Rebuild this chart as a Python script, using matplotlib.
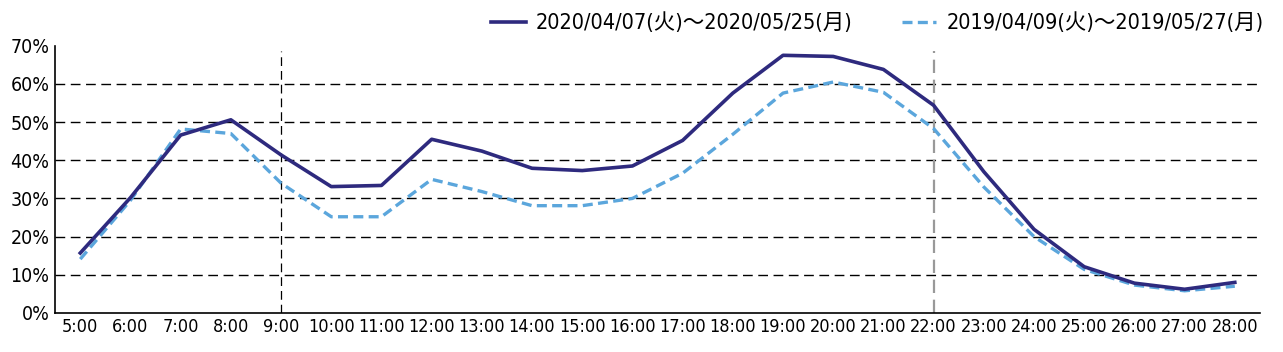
import matplotlib.pyplot as plt
from matplotlib.ticker import PercentFormatter

plt.rcParams['font.family'] = ['DejaVu Sans', 'Noto Sans CJK JP']
plt.rcParams['font.stretch'] = 'condensed'

hours = ['5:00', '6:00', '7:00', '8:00', '9:00', '10:00', '11:00', '12:00',
         '13:00', '14:00', '15:00', '16:00', '17:00', '18:00', '19:00', '20:00',
         '21:00', '22:00', '23:00', '24:00', '25:00', '26:00', '27:00', '28:00']

rate_2020 = [15.7, 30.2, 46.6, 50.6, 41.4, 33.1, 33.4, 45.5, 42.4, 37.9, 37.3, 38.5,
             45.2, 57.6, 67.5, 67.2, 63.8, 54.4, 37.0, 21.9, 12.1, 7.8, 6.2, 8.0]
rate_2019 = [14.1, 29.5, 48.2, 47.0, 34.0, 25.2, 25.2, 35.0, 31.8, 28.1, 28.1, 30.0,
             36.6, 46.8, 57.6, 60.5, 57.8, 48.3, 33.0, 20.0, 11.4, 7.3, 5.8, 7.0]

label_2020 = '2020/04/07(火)～2020/05/25(月)'
label_2019 = '2019/04/09(火)～2019/05/27(月)'

x = list(range(len(hours)))

fig = plt.figure(figsize=(12.83, 3.52), dpi=100)
ax = fig.add_axes([0.043, 0.111, 0.939, 0.759])

for y in range(10, 70, 10):
    ax.axhline(y, color='black', linestyle=(0, (7, 4)), linewidth=1.0, zorder=1)
ax.plot([4, 4], [0, 68.5], color='black', linestyle=(0, (7, 4)), linewidth=0.9, zorder=1)
ax.plot([17, 17], [0, 68.5], color='#999999', linestyle=(0, (6, 3)), linewidth=1.6, zorder=1)

ax.plot(x, rate_2020, color='#2e2a7e', linewidth=2.6, label=label_2020, zorder=3)
ax.plot(x, rate_2019, color='#5ba6dc', linewidth=2.4, linestyle=(0, (3, 1.6)),
        label=label_2019, zorder=2)

ax.set_xlim(-0.5, 23.5)
ax.set_ylim(0, 70)
ax.set_xticks(x)
ax.set_xticklabels(hours)
ax.set_yticks(range(0, 71, 10))
ax.yaxis.set_major_formatter(PercentFormatter(decimals=0))
ax.tick_params(length=0, labelsize=13, pad=4)
ax.tick_params(axis='y', labelsize=14)
for side in ['top', 'right']:
    ax.spines[side].set_visible(False)
for side in ['left', 'bottom']:
    ax.spines[side].set_color('black')
    ax.spines[side].set_linewidth(1.2)

fig.legend(loc='upper right', bbox_to_anchor=(1.0, 1.02), ncol=2, frameon=False,
           fontsize=15.5, handlelength=1.6, columnspacing=2.3, handletextpad=0.47)

fig.savefig('out.png', dpi=100)
